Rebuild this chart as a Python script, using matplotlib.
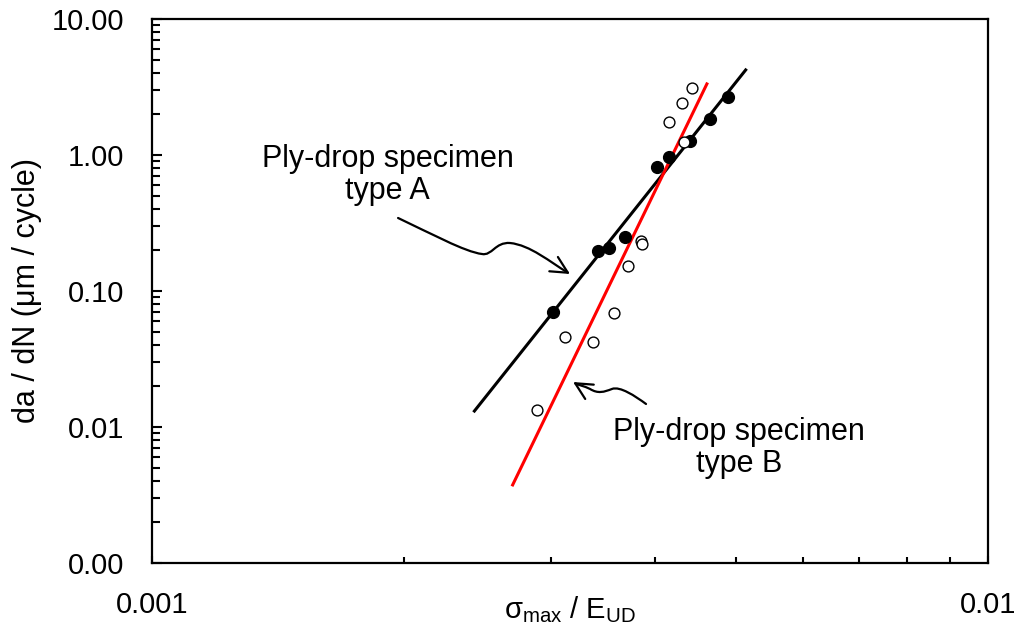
import numpy as np
import matplotlib.pyplot as plt
from matplotlib.path import Path
from matplotlib.patches import FancyArrowPatch
from matplotlib.ticker import FixedLocator, LogLocator, NullFormatter

plt.rcParams['font.family'] = ['Liberation Sans', 'DejaVu Sans']
plt.rcParams['mathtext.fontset'] = 'custom'
plt.rcParams['mathtext.rm'] = 'Liberation Sans'
plt.rcParams['mathtext.it'] = 'Liberation Sans'
plt.rcParams['mathtext.default'] = 'regular'

# ---------------------- DATA ----------------------

# type A specimens (filled)
strain_a = [0.00302, 0.00342, 0.00352, 0.00368, 0.00402, 0.00415, 0.00440, 0.00465, 0.00489]
rate_a = [0.0702, 0.197, 0.207, 0.249, 0.816, 0.967, 1.27, 1.84, 2.67]

# type B specimens (open)
strain_b = [0.00289, 0.00312, 0.00337, 0.00357, 0.00371, 0.00384, 0.00386,
            0.00415, 0.00431, 0.00433, 0.00443]
rate_b = [0.0134, 0.0455, 0.0422, 0.0689, 0.153, 0.234, 0.222,
          1.76, 2.40, 1.25, 3.09]

# power law fit lines (end points)
fit_a_x = [0.00243, 0.00513]
fit_a_y = [0.0131, 4.22]
fit_b_x = [0.00270, 0.00461]
fit_b_y = [0.00375, 3.33]

xticks = [0.001, 0.01]
xticklabels = ['0.001', '0.01']
yticks = [0.001, 0.01, 0.1, 1, 10]
yticklabels = ['0.00', '0.01', '0.10', '1.00', '10.00']

# ---------------------- PLOT ----------------------

fig = plt.figure(figsize=(10.19, 6.31), dpi=100)
ax = fig.add_axes([0.1492, 0.1078, 0.8204, 0.8621])

ax.plot(fit_a_x, fit_a_y, color='black', lw=2.2, zorder=2)
ax.plot(fit_b_x, fit_b_y, color='#ff0000', lw=2.2, zorder=3)
ax.plot(strain_a, rate_a, 'o', color='black', ms=8.5, zorder=4)
ax.plot(strain_b, rate_b, 'o', mfc='white', mec='black', mew=1.0, ms=7.8, zorder=5)

ax.set_xscale('log')
ax.set_yscale('log')
ax.set_xlim(0.001, 0.01)
ax.set_ylim(0.001, 10)

ax.xaxis.set_major_locator(FixedLocator(xticks))
ax.set_xticklabels(xticklabels)
ax.xaxis.set_minor_locator(LogLocator(base=10, subs=np.arange(2, 10)))
ax.xaxis.set_minor_formatter(NullFormatter())
ax.yaxis.set_major_locator(FixedLocator(yticks))
ax.set_yticklabels(yticklabels)
ax.yaxis.set_minor_locator(LogLocator(base=10, subs=np.arange(2, 10)))
ax.yaxis.set_minor_formatter(NullFormatter())

ax.tick_params(axis='both', which='both', direction='in', labelsize=21, width=1.5)
ax.tick_params(axis='x', which='major', length=5, pad=20)
ax.tick_params(axis='x', which='minor', length=4)
ax.tick_params(axis='y', which='major', length=7, pad=20)
ax.tick_params(axis='y', which='minor', length=6)
for s in ax.spines.values():
    s.set_linewidth(1.6)

ax.set_xlabel(r'$\sigma_{max}$ / E$_{UD}$', fontsize=21)
ax.set_ylabel('da / dN (\u03bcm / cycle)', fontsize=22)
ax.xaxis.set_label_coords(0.5, -0.058)
ax.yaxis.set_label_coords(-0.132, 0.5)

# annotations
ax.text(0.282, 0.713, 'Ply-drop specimen\ntype A', transform=ax.transAxes,
        ha='center', va='center', fontsize=22, linespacing=1.08)
ax.text(0.702, 0.212, 'Ply-drop specimen\ntype B', transform=ax.transAxes,
        ha='center', va='center', fontsize=22, linespacing=1.08)

C = Path.CURVE4
path_a = Path([(0.2943, 0.6342), (0.3325, 0.6066), (0.3744, 0.5717), (0.3947, 0.5680),
               (0.4067, 0.5643), (0.4103, 0.5901), (0.4282, 0.5882),
               (0.4522, 0.5846), (0.4761, 0.5533), (0.5000, 0.5312)],
              [Path.MOVETO, C, C, C, C, C, C, C, C, C])
path_b = Path([(0.5909, 0.2923), (0.5778, 0.3070), (0.5598, 0.3254), (0.5502, 0.3199),
               (0.5407, 0.3143), (0.5335, 0.3107), (0.5239, 0.3199),
               (0.5167, 0.3254), (0.5096, 0.3272), (0.5036, 0.3327)],
              [Path.MOVETO, C, C, C, C, C, C, C, C, C])
for p in (path_a, path_b):
    arr = FancyArrowPatch(path=p, arrowstyle='->,head_length=0.6,head_width=0.3',
                          mutation_scale=20, lw=1.6, color='black',
                          transform=ax.transAxes, zorder=6)
    ax.add_patch(arr)

fig.savefig('out.png', dpi=100)
